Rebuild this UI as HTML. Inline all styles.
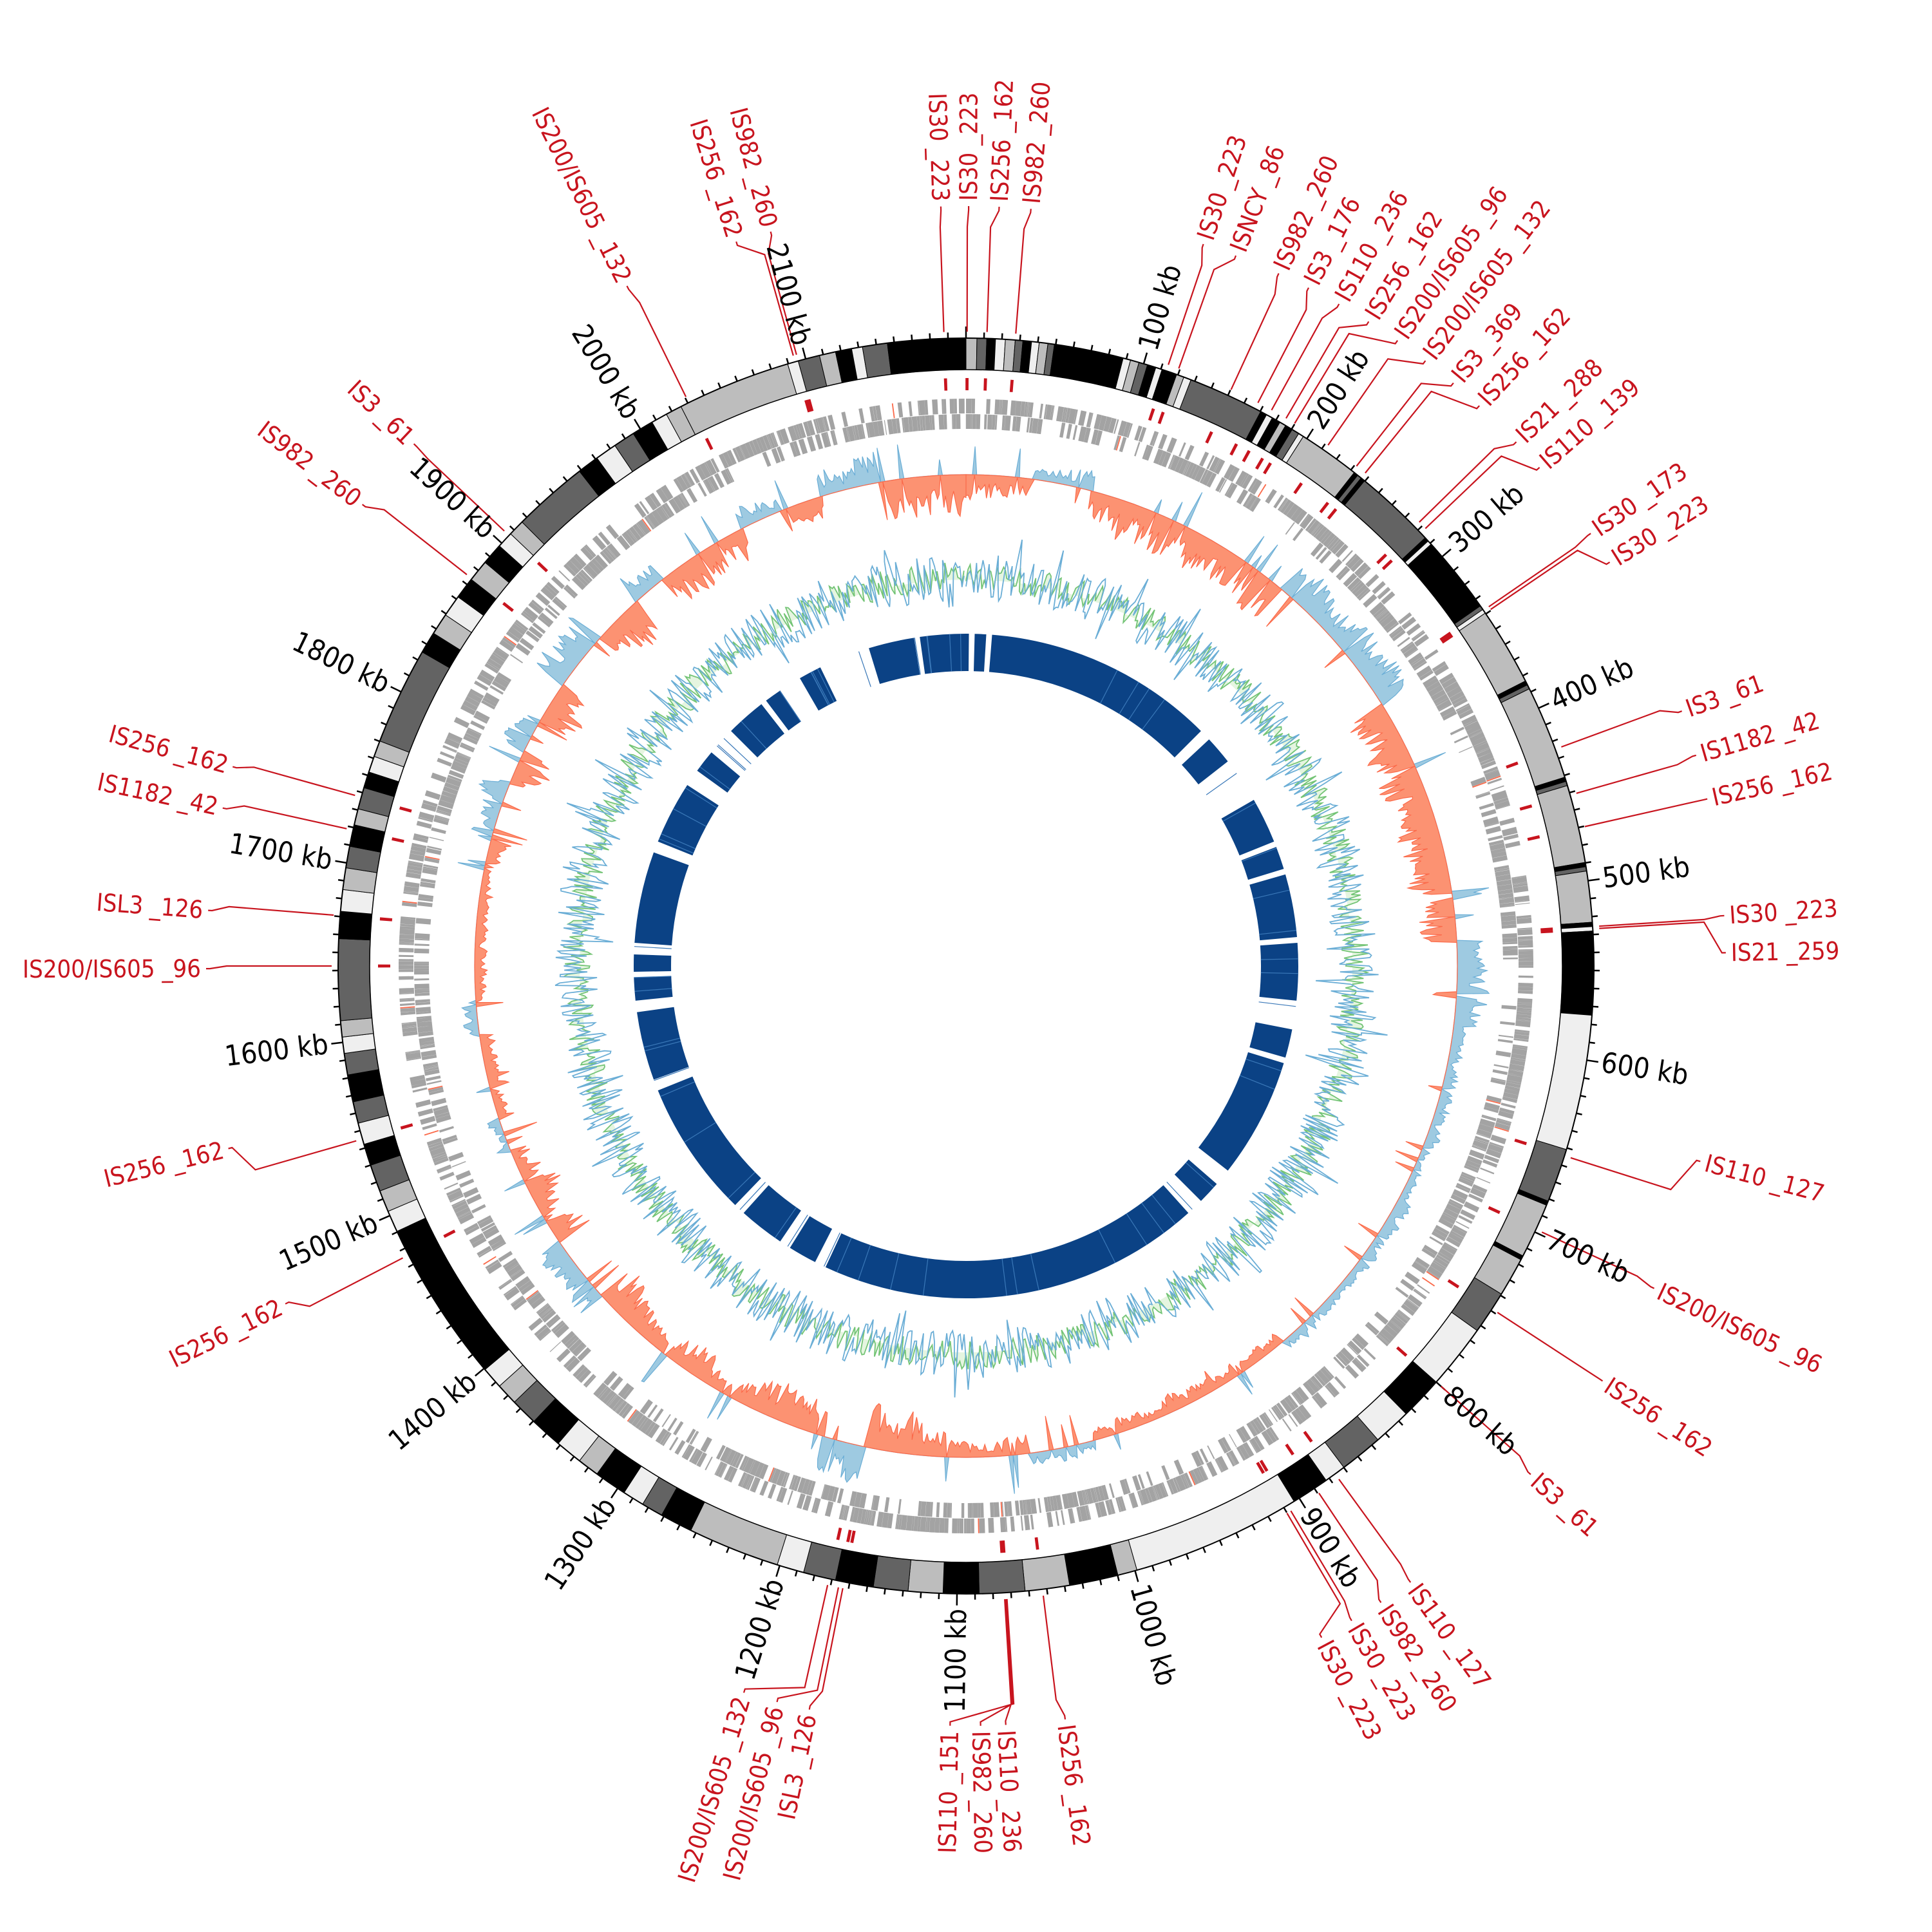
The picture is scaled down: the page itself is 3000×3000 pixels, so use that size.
<!DOCTYPE html>
<html><head><meta charset="utf-8">
<style>
html,body{margin:0;padding:0;background:#fff;}
svg{display:block;}
text{font-family:"DejaVu Sans Condensed","DejaVu Sans","Liberation Sans",sans-serif;}
.isl text{fill:#c8141e;font-size:38px;}
.tkl text{fill:#000;font-size:44px;}
</style></head>
<body>
<svg id="s" width="3000" height="3000" viewBox="0 0 3000 3000" xmlns="http://www.w3.org/2000/svg">
<rect width="3000" height="3000" fill="#fff"/>
<g id="tracks"></g>
<g class="tkl" id="tkl">
<text>100 kb</text><text>200 kb</text><text>300 kb</text><text>400 kb</text><text>500 kb</text><text>600 kb</text><text>700 kb</text><text>800 kb</text><text>900 kb</text><text>1000 kb</text><text>1100 kb</text><text>1200 kb</text><text>1300 kb</text><text>1400 kb</text><text>1500 kb</text><text>1600 kb</text><text>1700 kb</text><text>1800 kb</text><text>1900 kb</text><text>2000 kb</text><text>2100 kb</text>
</g>
<g class="isl" id="isl">
<text>IS30 _223</text>
<text>IS30 _223</text>
<text>IS256 _162</text>
<text>IS982 _260</text>
<text>IS30 _223</text>
<text>ISNCY _86</text>
<text>IS982 _260</text>
<text>IS3 _176</text>
<text>IS110 _236</text>
<text>IS256 _162</text>
<text>IS200/IS605 _96</text>
<text>IS200/IS605 _132</text>
<text>IS3 _369</text>
<text>IS256 _162</text>
<text>IS21 _288</text>
<text>IS110 _139</text>
<text>IS30 _173</text>
<text>IS30 _223</text>
<text>IS3 _61</text>
<text>IS1182 _42</text>
<text>IS256 _162</text>
<text>IS30 _223</text>
<text>IS21 _259</text>
<text>IS110 _127</text>
<text>IS200/IS605 _96</text>
<text>IS256 _162</text>
<text>IS3 _61</text>
<text>IS110 _127</text>
<text>IS982 _260</text>
<text>IS30 _223</text>
<text>IS30 _223</text>
<text>IS256 _162</text>
<text>IS110 _236</text>
<text>IS982 _260</text>
<text>IS110 _151</text>
<text>ISL3 _126</text>
<text>IS200/IS605 _96</text>
<text>IS200/IS605 _132</text>
<text>IS256 _162</text>
<text>IS256 _162</text>
<text>IS200/IS605 _96</text>
<text>ISL3 _126</text>
<text>IS1182 _42</text>
<text>IS256 _162</text>
<text>IS982 _260</text>
<text>IS3 _61</text>
<text>IS200/IS605 _132</text>
<text>IS256 _162</text>
<text>IS982 _260</text>
</g>
</svg>
<script>
(function(){
var NS="http://www.w3.org/2000/svg";
var cx=1500,cy=1500,L=2190;
function pt(r,a){var t=a*Math.PI/180;return [cx+r*Math.sin(t),cy-r*Math.cos(t)];}
function f(p){return p[0].toFixed(1)+","+p[1].toFixed(1);}
function wedge(r1,r2,a1,a2){
  var lg=(a2-a1)>180?1:0;
  return "M"+f(pt(r2,a1))+"A"+r2+","+r2+" 0 "+lg+" 1 "+f(pt(r2,a2))+"L"+f(pt(r1,a2))+"A"+r1+","+r1+" 0 "+lg+" 0 "+f(pt(r1,a1))+"Z";
}
var T=document.getElementById("tracks");
function el(name,attrs,parent){var e=document.createElementNS(NS,name);for(var k in attrs)e.setAttribute(k,attrs[k]);(parent||T).appendChild(e);return e;}
var seed=12345;
function rnd(){seed|=0;seed=seed+0x6D2B79F5|0;var t=Math.imul(seed^seed>>>15,1|seed);t=t+Math.imul(t^t>>>7,61|t)^t;return((t^t>>>14)>>>0)/4294967296;}

var C={'0':'#000000','6':'#636363','b':'#bdbdbd','e':'#efefef'};
var B=[[0,1,'b'],[1,1.9,'6'],[1.9,2.7,'0'],[2.7,3.6,'e'],[3.6,4.5,'b'],[4.5,5.2,'6'],[5.2,6,'0'],[6,6.7,'e'],[6.7,7.5,'b'],[7.5,8.1,'6'],[8.1,14.5,'0'],[14.5,15.2,'e'],[15.2,16,'b'],[16,16.8,'6'],[16.8,17.6,'0'],[17.6,18.2,'e'],[18.2,19.6,'0'],[19.6,20.3,'b'],[20.3,21,'e'],[21,28,'6'],[28,28.6,'0'],[28.6,29.2,'e'],[29.2,30,'0'],[30,30.6,'b'],[30.6,31.3,'0'],[31.3,32,'6'],[32,32.5,'e'],[32.5,38.2,'b'],[38.2,38.6,'0'],[38.6,39,'6'],[39,39.4,'0'],[39.4,47,'6'],[47,47.4,'0'],[47.4,47.8,'e'],[47.8,55,'0'],[55,55.4,'6'],[55.4,55.8,'e'],[55.8,63,'b'],[63,63.4,'0'],[63.4,63.8,'6'],[63.8,72.5,'b'],[72.5,72.9,'0'],[72.9,73.3,'6'],[73.3,80.5,'b'],[80.5,80.9,'0'],[80.9,81.3,'6'],[81.3,86,'b'],[86,86.4,'0'],[86.4,86.8,'e'],[86.8,94.5,'0'],[94.5,107,'e'],[107,112,'6'],[112,112.4,'0'],[112.4,117.5,'b'],[117.5,117.9,'0'],[117.9,121.5,'b'],[121.5,125.5,'6'],[125.5,131.5,'e'],[131.5,135.5,'0'],[135.5,139,'e'],[139,143,'6'],[143,145,'e'],[145,148.5,'0'],[148.5,164.2,'e'],[164.2,166,'b'],[166,170.5,'0'],[170.5,174.6,'b'],[174.6,178.8,'6'],[178.8,182.1,'0'],[182.1,185.3,'b'],[185.3,188.5,'6'],[188.5,192,'0'],[192,195,'6'],[195,197.5,'e'],[197.5,206,'b'],[206,209,'0'],[209,211,'6'],[211,213,'e'],[213,216,'0'],[216,218,'b'],[218,220.5,'e'],[220.5,223.5,'0'],[223.5,226,'6'],[226,228,'b'],[228,230,'e'],[230,232,'0'],[232,245,'0'],[245,247,'e'],[247,249,'b'],[249,251.5,'6'],[251.5,253.5,'0'],[253.5,255.5,'e'],[255.5,257.5,'6'],[257.5,260,'0'],[260,262,'6'],[262,263.5,'e'],[263.5,265,'b'],[265,272.5,'6'],[272.5,275,'0'],[275,277,'e'],[277,279,'b'],[279,281,'6'],[281,283,'0'],[283,284.5,'b'],[284.5,286.5,'6'],[286.5,288,'0'],[288,289.5,'e'],[289.5,291,'b'],[291,300,'6'],[300,302,'0'],[302,304,'b'],[304,306,'e'],[306,308,'0'],[308,310,'b'],[310,312,'0'],[312,313.5,'e'],[313.5,315,'b'],[315,322,'6'],[322,324,'0'],[324,326,'e'],[326,328,'6'],[328,330,'0'],[330,331.5,'e'],[331.5,333,'b'],[333,343.5,'b'],[343.5,344.5,'e'],[344.5,346.5,'6'],[346.5,348,'b'],[348,349.5,'0'],[349.5,350.5,'e'],[350.5,352.8,'6'],[352.8,360,'0']];
var R1=926,R2=975;
B.forEach(function(b){el("path",{d:wedge(R1,R2,b[0],b[1]),fill:C[b[2]],stroke:"#000","stroke-width":"1"});});
el("circle",{cx:cx,cy:cy,r:R2,fill:"none",stroke:"#000","stroke-width":"2"});
el("circle",{cx:cx,cy:cy,r:R1,fill:"none",stroke:"#000","stroke-width":"1.5"});
var td="";
for(var k=0;k*10<L;k++){var a=k*10/L*360;var len=(k%10==0)?18:9;td+="M"+f(pt(R2,a))+"L"+f(pt(R2+len,a));}
el("path",{d:td,stroke:"#000","stroke-width":"2.5",fill:"none"});
var tk=document.getElementById("tkl").getElementsByTagName("text");
for(var i=0;i<tk.length;i++){
  var a=(i+1)*100/L*360;var p=pt(998,a);var t=tk[i];
  t.setAttribute("x",p[0].toFixed(1));t.setAttribute("y",p[1].toFixed(1));t.setAttribute("dominant-baseline","central");
  if(a<=180){t.setAttribute("text-anchor","start");t.setAttribute("transform","rotate("+(a-90).toFixed(2)+" "+f(p)+")");}
  else{t.setAttribute("text-anchor","end");t.setAttribute("transform","rotate("+(a+90).toFixed(2)+" "+f(p)+")");}
}
var LA=[[358.1,358.0],[0.2,0.1],[2.5,1.9],[4.9,4.5],[18.2,18.6],[20.8,19.6],[24.3,24.7],[26.8,27.4],[29.4,28.8],[32.0,30.3],[34.6,31.2],[37.2,34.8],[39.9,38.0],[42.5,39.0],[46.4,45.6],[49.0,46.4],[55.3,55.5],[57.9,55.8],[70.4,69.8],[73.9,74.2],[77.3,77.3],[86.2,86.4],[89.0,86.6],[104.9,107.6],[115.1,114.8],[123.1,123.1],[132.0,131.5],[144.2,144.0],[146.9,146.2],[149.5,149.2],[152.1,149.6],[172.5,173.0],[177.0,176.5],[178.9,176.4],[181.2,176.3],[191.9,191.2],[194.4,191.6],[197.0,192.6],[243.6,242.6],[256.1,254.0],[269.8,270.0],[274.2,274.6],[282.0,282.5],[285.2,285.6],[307.4,308.1],[313.4,313.3],[333.5,333.8],[342.4,344.2],[345.1,344.5]];
var il=document.getElementById("isl").getElementsByTagName("text");
var ld="",md="";
for(var i=0;i<il.length;i++){
  var la=LA[i][0],da=LA[i][1];var t=il[i];var p=pt(1188,la);
  t.setAttribute("x",p[0].toFixed(1));t.setAttribute("y",p[1].toFixed(1));t.setAttribute("dominant-baseline","central");
  if(la<=180){t.setAttribute("text-anchor","start");t.setAttribute("transform","rotate("+(la-90).toFixed(2)+" "+f(p)+")");}
  else{t.setAttribute("text-anchor","end");t.setAttribute("transform","rotate("+(la+90).toFixed(2)+" "+f(p)+")");}
  ld+="M"+f(pt(985,da))+"L"+f(pt(1148,da))+"L"+f(pt(1174,la))+"L"+f(pt(1180,la));
  md+=wedge(894,913,da-0.15,da+0.15);
}
el("path",{d:ld,stroke:"#c8141e","stroke-width":"2.2",fill:"none"});
el("path",{d:md,fill:"#c8141e"});

// gene track
function genes(r1,r2,dens){
  var d="",dr="",a=0;
  while(a<360){var w=0.08+rnd()*0.5;var local=dens(a);
    if(rnd()<local){ if(rnd()<0.02)dr+=wedge(r1,r2,a,a+0.12);else d+=wedge(r1,r2,a,a+w);}
    a+=w+(rnd()<0.2?rnd()*0.5:0.01);}
  el("path",{d:d,fill:"#a3a3a3"});el("path",{d:dr,fill:"#fb6a4a"});
}
genes(858,881,function(a){return 0.7+0.25*Math.sin(a*0.21);});
genes(834,857,function(a){return 0.65-0.3*Math.sin(a*0.21);});

// GC skew
var BL=[[8,15],[40,58],[87,140],[165,173],[192,197],[228,236],[248,252],[262,266],[285,292],[296,300],[305,312],[318,322],[333,338],[343,350]];
function isBlue(a){for(var i=0;i<BL.length;i++)if(a>=BL[i][0]&&a<BL[i][1])return true;return false;}
var base=763,step=0.25,pos=[],neg=[],env=0.6;
for(var a=0;a<=360;a+=step){
  env+= (rnd()-0.5)*0.18; if(env<0.25)env=0.25; if(env>1)env=1;
  var b=isBlue(a);var v=(b?62:-72)*env*(0.35+0.65*rnd());
  if(rnd()<0.06)v=(b?-1:1)*(20+40*rnd());
  pos.push(pt(base+Math.max(v,0),a));neg.push(pt(base+Math.min(v,0),a));
}
function area(arr,r){var s="M"+f(arr[0]);for(var i=1;i<arr.length;i++)s+="L"+f(arr[i]);
  s+="L"+f(pt(r,360));for(var a=360;a>=0;a-=2)s+="L"+f(pt(r,a));return s+"Z";}
el("path",{d:area(pos,base),fill:"#9ecae1",stroke:"#6baed6","stroke-width":"1.2"});
el("path",{d:area(neg,base),fill:"#fc9272",stroke:"#fb6a4a","stroke-width":"1.2"});

// GC content
var gb=600,g=[],bl=[];
for(var a=0;a<=360;a+=0.3){
  var gv=(rnd()-0.4)*45; var bv=(rnd()-0.45)*75; if(rnd()<0.08)bv*=1.7;
  g.push(pt(gb+gv,a)); bl.push(pt(gb+bv,a));
}
el("path",{d:area(g,gb),fill:"#e5f5e0",stroke:"none"});
var s="M"+f(g[0]);for(var i=1;i<g.length;i++)s+="L"+f(g[i]);
el("path",{d:s,fill:"none",stroke:"#74c476","stroke-width":"1.8"});
s="M"+f(bl[0]);for(var i=1;i<bl.length;i++)s+="L"+f(bl[i]);
el("path",{d:s,fill:"none",stroke:"#6baed6","stroke-width":"1.8"});

// inner blue blocks
var IB=[[-17,-9],[-8,0.5],[1.5,3.5],[4.5,45],[47,52],[60,68],[69,73],[74,85],[86,96],[101,106],[107,128],[131,135],[138,205],[207,212],[214,222],[224,248],[250,262],[264,268],[269,272],[274,290],[292,303],[306,310],[315,322],[323,326],[330,334]];
var bd="";IB.forEach(function(b){bd+=wedge(458,516,b[0],b[1]);});
el("path",{d:bd,fill:"#0b4285"});
var wl="";for(var i=0;i<60;i++){var a=rnd()*360;wl+="M"+f(pt(458,a))+"L"+f(pt(516,a));}
el("path",{d:wl,stroke:"#3a78b8","stroke-width":"1.2",fill:"none"});
})();
</script>
</body></html>
